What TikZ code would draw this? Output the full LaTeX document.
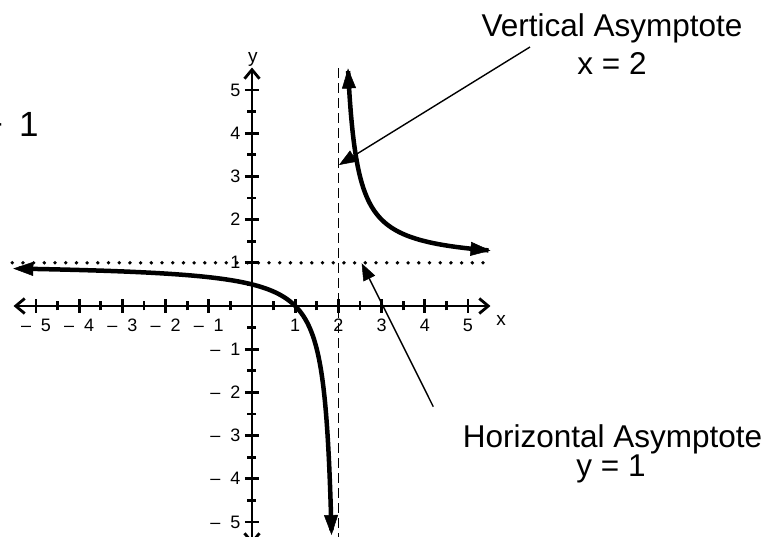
\documentclass[tikz,border=0pt]{standalone}
\usepackage{fontspec}
\setmainfont{Liberation Sans}
\usetikzlibrary{arrows.meta}
\begin{document}
\begin{tikzpicture}[x=43.2pt,y=43.2pt,
  barb/.tip={Straight Barb[length=9pt,width=15pt,line width=2.8pt]},
  bigtri/.tip={Triangle[length=20pt,width=14pt,line width=0.5pt]},
  ptrtri/.tip={Triangle[length=17pt,width=13pt,line width=0.5pt]},
  axisline/.style={line width=2.8pt,barb-barb},
  tickmark/.style={line width=2.8pt},
  curveline/.style={line width=4.5pt,bigtri-bigtri},
  pointer/.style={line width=1.4pt,-ptrtri},
  ticklab/.style={font=\fontsize{18}{20}\selectfont,inner sep=0pt},
  axlab/.style={font=\fontsize{19}{22}\selectfont,inner sep=0pt,anchor=base},
  note/.style={font=\fontsize{31.5}{36}\selectfont,inner sep=0pt,anchor=base},
]
\useasboundingbox (-5.8333,-5.3472) rectangle (11.9444,7.0833);

% asymptotes
\coordinate (vtop) at (2,5.5);
\coordinate (vbot) at (2,-5.6);
\draw[line width=1pt,dash pattern=on 10pt off 5pt] (vtop) -- (vbot);
\coordinate (hl) at (-5.55,1);
\coordinate (hr) at (5.45,1);
\draw[line width=3.8pt,line cap=round,dash pattern=on 0pt off 10.7pt] (hl) -- (hr);

% axes
\coordinate (xl) at (-5.52,0);
\coordinate (xr) at (5.52,0);
\coordinate (yb) at (0,-5.52);
\coordinate (yt) at (0,5.52);
\draw[axisline] (xl) -- (xr);
\draw[axisline] (yb) -- (yt);

% ticks
\foreach \i in {-5,...,-1,1,2,3,4,5}{
  \draw[tickmark] (\i,0) ++(0pt,-7pt) -- ++(0pt,14pt);
  \draw[tickmark] (0,\i) ++(-7pt,0pt) -- ++(14pt,0pt);
}
\foreach \i in {-4.5,-3.5,-2.5,-1.5,-0.5,0.5,1.5,2.5,3.5,4.5}{
  \draw[tickmark] (\i,0) ++(0pt,-4.5pt) -- ++(0pt,9pt);
  \draw[tickmark] (0,\i) ++(-4.5pt,0pt) -- ++(9pt,0pt);
}

% tick labels
\foreach \i in {1,...,5}{
  \node[ticklab,anchor=base] (xp\i) at (\i,-0.579) {\i};
  \node[ticklab,anchor=base] (xn\i) at (-\i,-0.579) {\textendash\hspace{0.55em}\i};
  \node[ticklab,anchor=east] (yp\i) at (-0.266,\i) {\i};
  \node[ticklab,anchor=east] (yn\i) at (-0.266,-\i) {\textendash\hspace{0.55em}\i};
}
\node[axlab] (xname) at (5.764,-0.44) {x};
\node[axlab] (yname) at (0.023,5.625) {y};

% curve y = 1/(x-2) + 1
\draw[curveline] plot[domain=-1.841:2.0215,samples=220,variable=\s] ({2-exp(\s)},{1-exp(-\s)});
\draw[curveline] plot[domain=-1.504:1.2613,samples=200,variable=\s] ({2+exp(\s)},{1+exp(-\s)});

% annotations
\node[note] (vat) at (8.333,6.227) {Vertical Asymptote};
\node[note] (vax) at (8.333,5.370) {x = 2};
\node[note] (hat) at (8.345,-3.264) {Horizontal Asymptote};
\node[note] (hay) at (8.31,-3.958) {y = 1};

\coordinate (vtail) at (6.435,5.995);
\coordinate (vtip) at (2.014,3.264);
\draw[pointer] (vtail) -- (vtip);
\coordinate (htail) at (4.197,-2.331);
\coordinate (htip) at (2.539,0.988);
\draw[pointer] (htail) -- (htip);

% equation fragment, cut by the left edge as in the reference
\node[anchor=base west,inner sep=0pt,font=\fontsize{35}{40}\selectfont] (eq) at (-6.24,3.912) {+\hspace{16pt}1};
\end{tikzpicture}
\end{document}
